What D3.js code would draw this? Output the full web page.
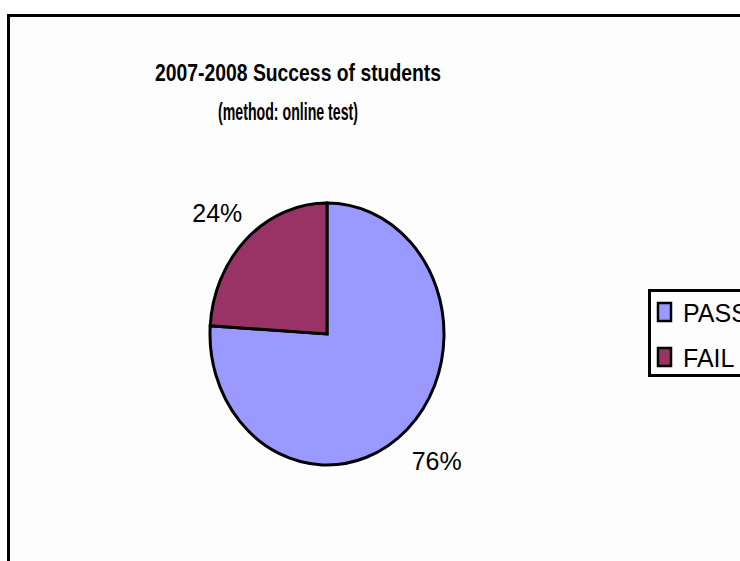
<!DOCTYPE html>
<html>
<head>
<meta charset="utf-8">
<script src="https://cdn.jsdelivr.net/npm/d3@7"></script>
<style>
html,body{margin:0;padding:0;background:#ffffff;}
svg{display:block;}
text{font-family:"Liberation Sans",Arial,sans-serif;fill:#000;}
</style>
</head>
<body>
<svg id="chart" width="740" height="561"></svg>
<script>
const categories = ["PASS", "FAIL"];
const values = [76, 24];
const colors = ["#9999ff", "#993366"];
const titleLines = ["2007-2008 Success of students", "(method: online test)"];

const svg = d3.select("#chart");
const W = 740, H = 561;

// chart area background + frame
svg.append("rect").attr("x", 8).attr("y", 16).attr("width", W - 8).attr("height", H - 16)
  .attr("fill", "#fdfdfd");
svg.append("path")
  .attr("d", `M8.5,${H} L8.5,15.5 L${W},15.5`)
  .attr("fill", "none").attr("stroke", "#000").attr("stroke-width", 3);

// title
const title = svg.append("text").attr("text-anchor", "middle")
  .attr("font-weight", "bold").attr("font-size", 24);
title.append("tspan").attr("x", 298).attr("y", 81).text(titleLines[0])
  .attr("textLength", 286).attr("lengthAdjust", "spacingAndGlyphs");
title.append("tspan").attr("x", 288).attr("y", 120).text(titleLines[1])
  .attr("textLength", 140).attr("lengthAdjust", "spacingAndGlyphs");

// pie (elliptical as in the reference)
const cx = 327, cy = 334, rx = 117, ry = 131;
const pie = d3.pie().sort(null).value(d => d)(values);
const arc = d3.arc().innerRadius(0).outerRadius(rx);
const g = svg.append("g").attr("transform", `translate(${cx},${cy}) scale(1,${ry / rx})`);
g.selectAll("path").data(pie).enter().append("path")
  .attr("d", arc)
  .attr("fill", (d, i) => colors[i])
  .attr("stroke", "#000").attr("stroke-width", 3)
  .attr("stroke-linejoin", "miter")
  .attr("vector-effect", "non-scaling-stroke");

// data labels
const total = d3.sum(values);
svg.selectAll("text.lbl").data(pie).enter().append("text")
  .attr("class", "lbl")
  .attr("text-anchor", "middle")
  .attr("font-size", 25)
  .attr("x", d => { const a = (d.startAngle + d.endAngle) / 2; return cx + Math.sin(a) * rx * 1.37; })
  .attr("y", d => { const a = (d.startAngle + d.endAngle) / 2; return cy - Math.cos(a) * ry * 1.3 + 12; })
  .attr("textLength", 50).attr("lengthAdjust", "spacingAndGlyphs")
  .text(d => Math.round(d.value / total * 100) + "%");

// legend
const lg = svg.append("g");
lg.append("rect").attr("x", 649.5).attr("y", 290.5).attr("width", 120).attr("height", 85)
  .attr("fill", "#fdfdfd").attr("stroke", "#000").attr("stroke-width", 3);
categories.forEach((c, i) => {
  const y0 = 303 + i * 45;
  lg.append("rect").attr("x", 658).attr("y", y0).attr("width", 13).attr("height", 18)
    .attr("fill", colors[i]).attr("stroke", "#000").attr("stroke-width", 2.5);
  lg.append("text").attr("x", 683).attr("y", y0 + 19).attr("font-size", 25).text(c);
});
</script>
</body>
</html>
